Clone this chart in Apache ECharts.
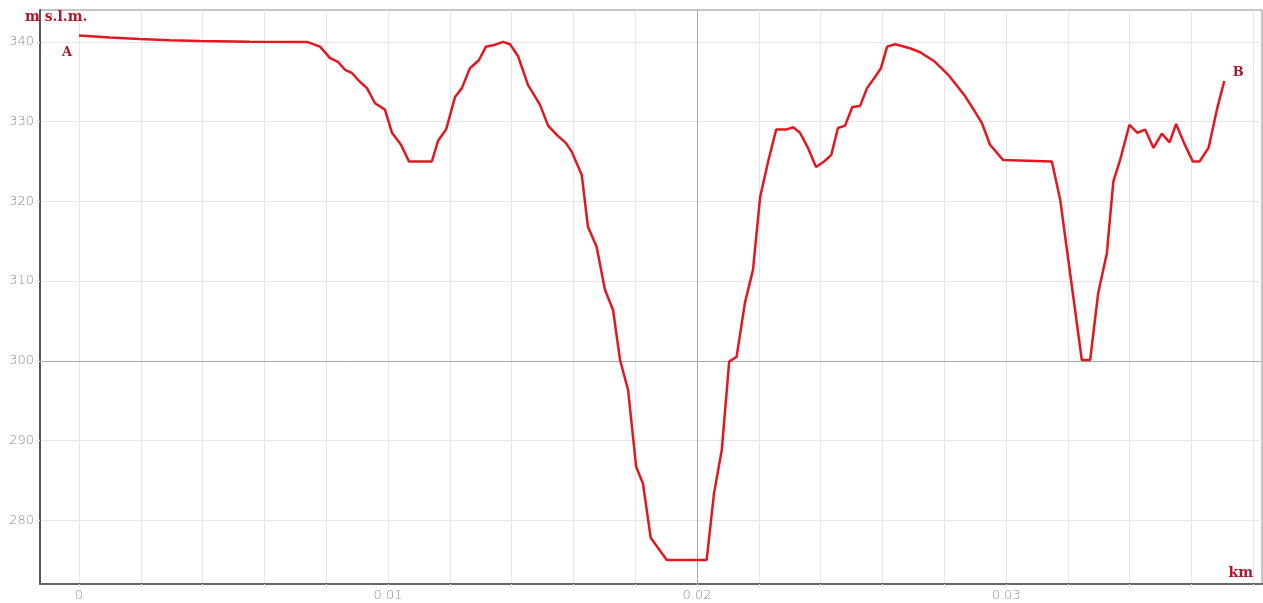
<!DOCTYPE html>
<html>
<head>
<meta charset="utf-8">
<title>Profilo altimetrico</title>
<script src="https://cdn.jsdelivr.net/npm/echarts@6/dist/echarts.min.js"></script>
<style>
  html, body { margin: 0; padding: 0; background: #fff; }
  #chart { width: 1263px; height: 603px; }
</style>
</head>
<body>
<div id="chart"></div>
<script>
// Distance along the profile (km)
const distanceKm = [
  0, 0.00100, 0.00197, 0.00294, 0.00392, 0.00553, 0.00738, 0.00780, 0.00812, 0.00838,
  0.00861, 0.00883, 0.00909, 0.00932, 0.00958, 0.00990, 0.01013, 0.01042, 0.01068, 0.01142,
  0.01162, 0.01188, 0.01217, 0.01239, 0.01265, 0.01294, 0.01317, 0.01343, 0.01372, 0.01395,
  0.01421, 0.01453, 0.01492, 0.01518, 0.01547, 0.01576, 0.01595, 0.01627, 0.01647, 0.01675,
  0.01702, 0.01728, 0.01751, 0.01777, 0.01803, 0.01825, 0.01850, 0.01902, 0.02031, 0.02055,
  0.02080, 0.02104, 0.02128, 0.02155, 0.02181, 0.02204, 0.02230, 0.02256, 0.02288, 0.02311,
  0.02333, 0.02359, 0.02385, 0.02411, 0.02434, 0.02456, 0.02479, 0.02502, 0.02528, 0.02550,
  0.02576, 0.02595, 0.02615, 0.02641, 0.02689, 0.02722, 0.02770, 0.02812, 0.02841, 0.02867,
  0.02900, 0.02922, 0.02948, 0.02990, 0.03148, 0.03175, 0.03245, 0.03272, 0.03298, 0.03326,
  0.03347, 0.03369, 0.03399, 0.03425, 0.03450, 0.03477, 0.03504, 0.03529, 0.03550, 0.03576,
  0.03604, 0.03626, 0.03655, 0.03682, 0.03706
];

// Elevation (m s.l.m.)
const elevation = [
  340.8, 340.55, 340.35, 340.2, 340.1, 340.03, 340.0, 339.4, 338.0, 337.5,
  336.5, 336.1, 335.0, 334.2, 332.3, 331.5, 328.6, 327.1, 325.0, 325.0,
  327.6, 329.0, 333.1, 334.2, 336.7, 337.7, 339.4, 339.6, 340.0, 339.7,
  338.2, 334.6, 332.1, 329.5, 328.3, 327.3, 326.2, 323.3, 316.8, 314.3,
  308.9, 306.4, 300.1, 296.3, 286.7, 284.6, 277.8, 275.0, 275.0, 283.4,
  288.8, 299.9, 300.5, 307.3, 311.4, 320.5, 325.0, 329.0, 329.0, 329.3,
  328.6, 326.7, 324.3, 325.0, 325.8, 329.2, 329.5, 331.8, 332.0, 334.2,
  335.6, 336.7, 339.4, 339.7, 339.2, 338.7, 337.5, 335.9, 334.5, 333.2,
  331.2, 329.8, 327.1, 325.2, 325.0, 320.2, 300.1, 300.1, 308.5, 313.5,
  322.5, 325.2, 329.6, 328.6, 329.0, 326.7, 328.5, 327.4, 329.7, 327.3,
  325.0, 325.0, 326.7, 331.5, 335.1
];

// Grid and tick positions
const xGridValues = [0, 0.002, 0.004, 0.006, 0.008, 0.010, 0.012, 0.014, 0.016, 0.018,
  0.020, 0.022, 0.024, 0.026, 0.028, 0.030, 0.032, 0.034, 0.036, 0.038];
const xTickLabels = [0, 0.01, 0.02, 0.03];
const yTickLabels = [280, 290, 300, 310, 320, 330, 340];

const profile = distanceKm.map((d, i) => [d, elevation[i]]);

const labelRed = '#b3152c';
const lineRed = '#e2171f';
const tickGrey = '#8e8e8e';

const chart = echarts.init(document.getElementById('chart'), null, { renderer: 'canvas' });

chart.setOption({
  animation: false,
  backgroundColor: '#ffffff',
  grid: {
    left: 40, right: 1, top: 10, bottom: 19,
    show: true,
    borderColor: '#8a8a8a',
    borderWidth: 1
  },
  xAxis: {
    type: 'value',
    min: -0.00126,
    max: 0.03828,
    axisLine: { show: true, onZero: false, lineStyle: { color: '#666', width: 2 } },
    axisTick: { show: true, customValues: xGridValues, length: 3, inside: false, lineStyle: { color: '#dddddd' } },
    axisLabel: {
      customValues: xTickLabels,
      color: tickGrey,
      fontFamily: 'DejaVu Sans',
      fontWeight: 200,
      fontSize: 13,
      margin: 5,
      formatter: v => String(v)
    },
    splitLine: { show: true, lineStyle: { color: '#e6e6e6', width: 1 } }
  },
  yAxis: {
    type: 'value',
    min: 272,
    max: 344,
    axisLine: { show: true, onZero: false, lineStyle: { color: '#555', width: 2 } },
    axisTick: { show: true, customValues: yTickLabels, length: 3, lineStyle: { color: '#dddddd' } },
    axisLabel: {
      customValues: yTickLabels,
      color: tickGrey,
      fontFamily: 'DejaVu Sans',
      fontWeight: 200,
      fontSize: 13,
      margin: 6
    },
    splitLine: { show: true, lineStyle: { color: '#e6e6e6', width: 1 } }
  },
  graphic: [
    {
      type: 'text', left: 25, top: 10, z: 10,
      style: { text: 'm s.l.m.', fill: labelRed, font: 'bold 14px "DejaVu Serif"' }
    },
    {
      type: 'text', right: 10, top: 566, z: 10,
      style: { text: 'km', fill: labelRed, font: 'bold 14px "DejaVu Serif"' }
    }
  ],
  series: [{
    type: 'line',
    data: profile,
    showSymbol: false,
    smooth: false,
    clip: false,
    lineStyle: { color: lineRed, width: 2.5 },
    markLine: {
      silent: true,
      symbol: 'none',
      label: { show: false },
      lineStyle: { color: '#a8a8a8', width: 1, type: 'solid' },
      data: [{ xAxis: 0.02 }, { yAxis: 300 }],
      z: 1
    },
    markPoint: {
      silent: true,
      symbol: 'circle',
      symbolSize: 0,
      label: {
        show: true,
        color: labelRed,
        fontFamily: 'DejaVu Serif',
        fontWeight: 'bold',
        fontSize: 13
      },
      data: [
        { coord: [distanceKm[0], elevation[0]], value: 'A', label: { formatter: 'A', offset: [-12, 17] } },
        { coord: [distanceKm[distanceKm.length - 1], elevation[elevation.length - 1]], value: 'B', label: { formatter: 'B', offset: [14, -8] } }
      ]
    }
  }]
});
</script>
</body>
</html>
